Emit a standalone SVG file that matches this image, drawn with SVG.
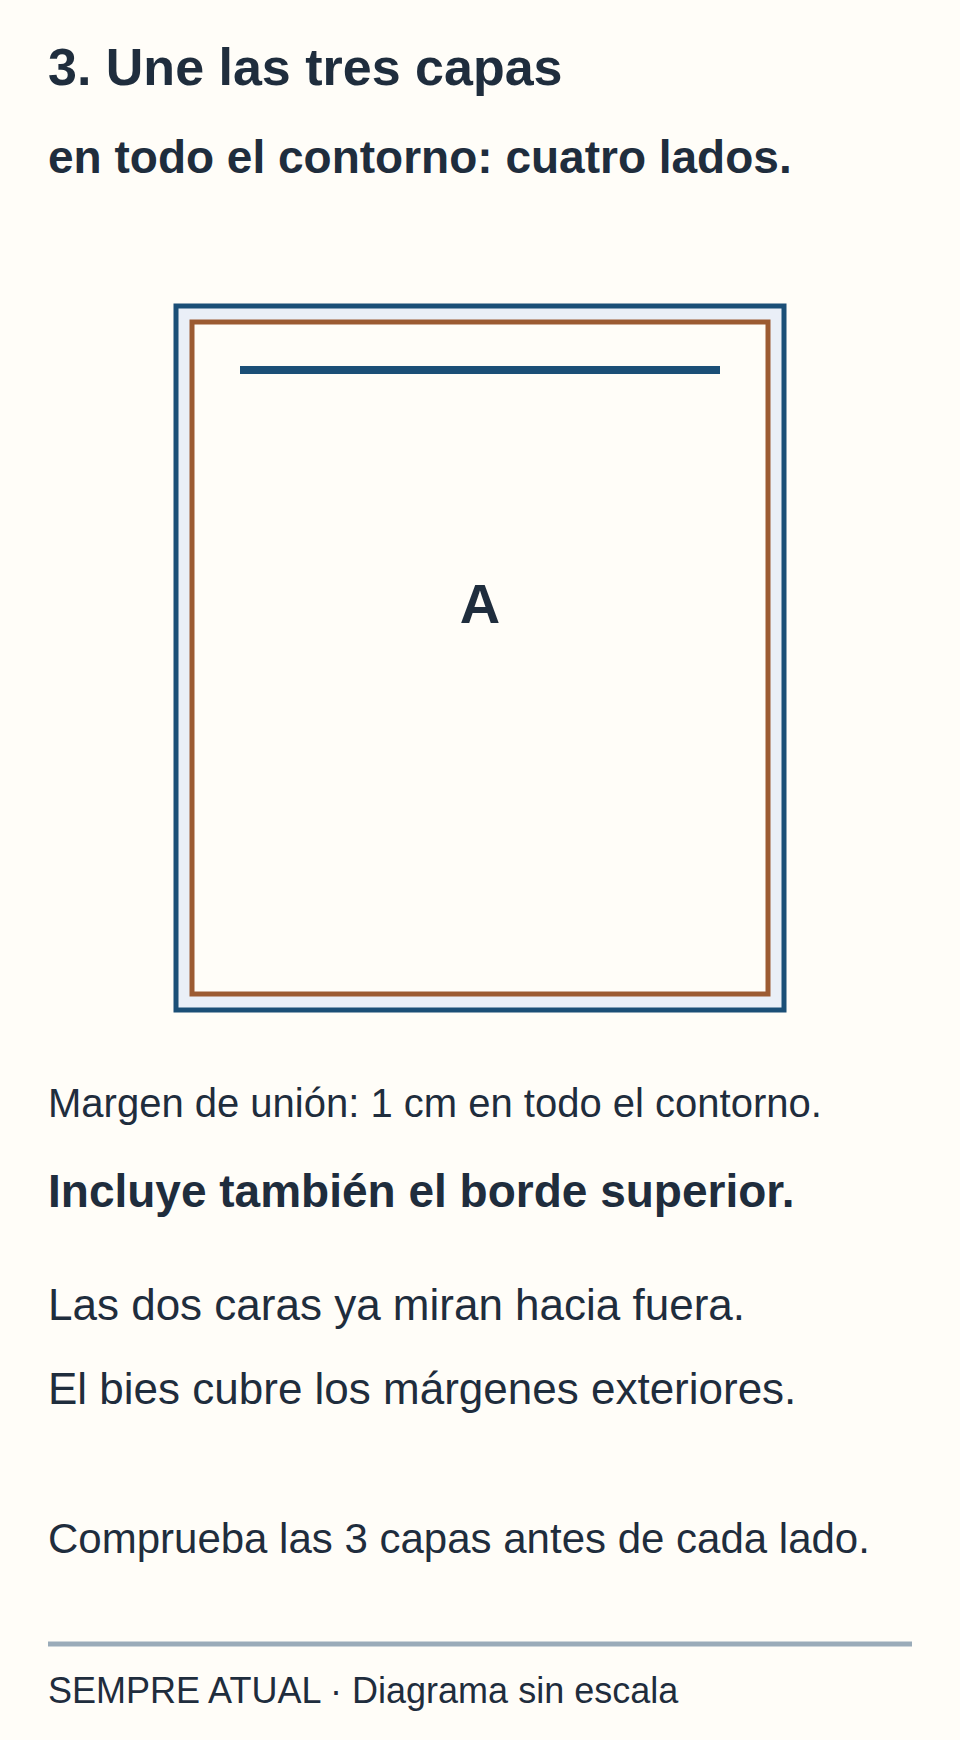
<svg xmlns="http://www.w3.org/2000/svg" width="960" height="1740" viewBox="0 0 960 1740">
<style>
.t{font-family:"Liberation Sans",Arial,sans-serif;fill:#1f2d3d}
.b{font-weight:bold}
</style>
<rect x="0" y="0" width="960" height="1740" fill="#fffdf8"/>
<g id="title">
<text class="t b" x="48" y="85" font-size="52">3. Une las tres capas</text>
<text class="t b" x="48" y="173" font-size="46">en todo el contorno: cuatro lados.</text>
</g>
<g id="layers">
<rect id="bias" x="176" y="306" width="608" height="704" fill="#eaeff7" stroke="#1b4f77" stroke-width="5"/>
<rect id="fabric" x="192" y="322" width="576" height="672" fill="#fffdf8" stroke="#9c5b32" stroke-width="5"/>
<line id="top-edge" x1="240" y1="370" x2="720" y2="370" stroke="#1b4f77" stroke-width="8"/>
<text class="t b" x="480" y="623" font-size="56" text-anchor="middle">A</text>
</g>
<g id="notes">
<text class="t" x="48" y="1117" font-size="40">Margen de unión: 1 cm en todo el contorno.</text>
<text class="t b" x="48" y="1207" font-size="46">Incluye también el borde superior.</text>
<text class="t" x="48" y="1320" font-size="44">Las dos caras ya miran hacia fuera.</text>
<text class="t" x="48" y="1404" font-size="44">El bies cubre los márgenes exteriores.</text>
<text class="t" x="48" y="1553" font-size="42">Comprueba las 3 capas antes de cada lado.</text>
</g>
<g id="footer">
<line x1="48" y1="1644" x2="912" y2="1644" stroke="#9aabb9" stroke-width="5"/>
<text class="t" x="48" y="1703" font-size="36">SEMPRE ATUAL · Diagrama sin escala</text>
</g>
</svg>
